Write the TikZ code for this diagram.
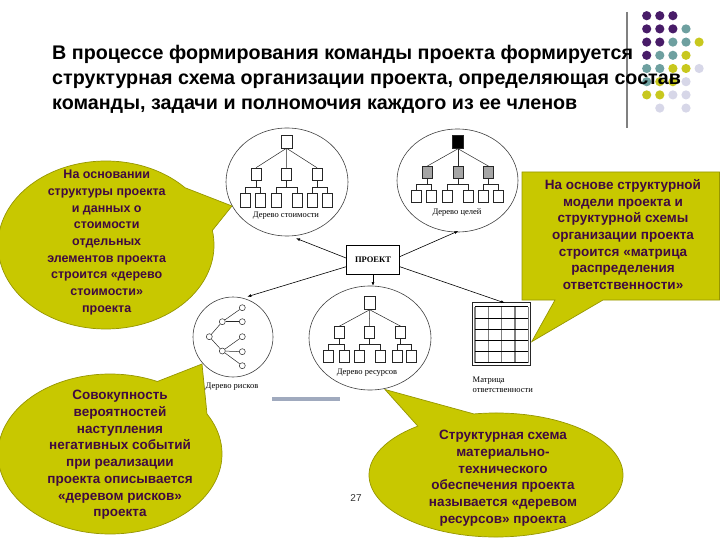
\documentclass[tikz,border=0pt]{standalone}
\usepackage{fontspec}
\setmainfont{Liberation Sans}
\newfontfamily\trfont{Liberation Serif}
\usetikzlibrary{arrows.meta,shapes.geometric}
\definecolor{olivefill}{RGB}{200,200,0}
\definecolor{olivedraw}{RGB}{150,150,0}
\definecolor{calltext}{RGB}{64,10,64}
\definecolor{dotpurple}{RGB}{72,28,104}
\definecolor{dotteal}{RGB}{110,160,160}
\definecolor{dotyellow}{RGB}{200,200,30}
\definecolor{dotlav}{RGB}{215,215,232}
\definecolor{barblue}{RGB}{160,170,190}
\definecolor{midgray}{RGB}{165,165,165}
\tikzset{
 tbox/.style={draw=black!85, line width=0.5pt, fill=white, minimum width=10pt, minimum height=12pt, inner sep=0pt},
 tline/.style={draw=black!85, line width=0.5pt},
 rnode/.style={circle, draw=black!85, line width=0.5pt, fill=white, minimum size=6pt, inner sep=0pt},
 ringshape/.style={ellipse, draw=black!75, line width=0.6pt, inner sep=0pt},
 arr/.style={draw=black, line width=0.6pt, -{Latex[length=4pt,width=3pt]}},
 tlabel/.style={font=\trfont\fontsize{8.5}{10}\selectfont, inner sep=0pt},
 bubble/.style={fill=olivefill, draw=olivedraw, line width=0.7pt},
 calltextstyle/.style={font=\bfseries\fontsize{13.5}{16.7}\selectfont, text=calltext, align=center, inner sep=0pt},
}
\begin{document}
\begin{tikzpicture}[x=1pt,y=1pt,yscale=-1]
\useasboundingbox (0,0) rectangle (720,540);
% decoration dots
\foreach \c/\r/\col in {0/0/dotpurple,1/0/dotpurple,2/0/dotpurple,
 0/1/dotpurple,1/1/dotpurple,2/1/dotpurple,3/1/dotteal,
 0/2/dotpurple,1/2/dotpurple,2/2/dotteal,3/2/dotteal,4/2/dotyellow,
 0/3/dotpurple,1/3/dotteal,2/3/dotteal,3/3/dotyellow,
 0/4/dotteal,1/4/dotteal,2/4/dotyellow,3/4/dotyellow,4/4/dotlav,
 0/5/dotteal,1/5/dotyellow,2/5/dotyellow,3/5/dotlav,
 0/6/dotyellow,1/6/dotyellow,2/6/dotlav,3/6/dotlav,
 1/7/dotlav,3/7/dotlav}
  \fill[\col] (646.7+13.1*\c,15.7+13.2*\r) circle (4.6);
\draw[gray, line width=1.5pt] (627,12) -- (627,128);
% title
\node[anchor=west, align=left, inner sep=0pt, font=\bfseries\fontsize{19.7}{25}\selectfont] (title) at (52,79)
 {В процессе формирования команды проекта формируется\\структурная схема организации проекта, определяющая состав\\команды, задачи и полномочия каждого из ее членов};
% frames
\node[ringshape, minimum width=122pt, minimum height=108pt] (costring) at (287,182) {};
\node[ringshape, minimum width=121pt, minimum height=103pt] (goalring) at (457.5,180.5) {};
\node[ringshape, minimum width=80pt, minimum height=80pt] (riskring) at (233,337) {};
\node[ringshape, minimum width=122pt, minimum height=104pt] (resring) at (370,338) {};
% cost tree
\node[tbox, minimum width=11pt, minimum height=13pt] (ct) at (286.5,141.5) {};
\foreach \i/\x in {1/256,2/286.7,3/317} \node[tbox] (cm\i) at (\x,174) {};
\foreach \i/\x in {1/245.7,2/260.7,3/276,4/297.7,5/312.3,6/327.3} \node[tbox, minimum height=14pt] (cb\i) at (\x,200) {};
\foreach \i in {1,2,3} \draw[tline] (ct.south) -- (cm\i.north);
\foreach \i/\a/\b in {1/1/2,2/3/4,3/5/6} {
  \path (cm\i.south) ++(0,6.7) coordinate (cj\i);
  \draw[tline] (cm\i.south) -- (cj\i);
  \draw[tline] (cb\a.north) |- (cj\i) -| (cb\b.north);
}
\node[tlabel] (costlab) at (286,216) {Дерево стоимости};
% goal tree
\node[tbox, fill=black, minimum width=11pt, minimum height=13pt] (gt) at (458,142) {};
\foreach \i/\x in {1/427,2/458,3/488.7} \node[tbox, fill=midgray] (gm\i) at (\x,172.5) {};
\foreach \i/\x in {1/416,2/431,3/447.3,4/468.3,5/483.3,6/498.3} \node[tbox] (gb\i) at (\x,196) {};
\foreach \i in {1,2,3} \draw[tline] (gt.south) -- (gm\i.north);
\foreach \i/\a/\b in {1/1/2,2/3/4,3/5/6} {
  \path (gm\i.south) ++(0,5.8) coordinate (gj\i);
  \draw[tline] (gm\i.south) -- (gj\i);
  \draw[tline] (gb\a.north) |- (gj\i) -| (gb\b.north);
}
\node[tlabel] (goallab) at (457,212.5) {Дерево целей};
% resource tree
\node[tbox, minimum width=11pt, minimum height=13pt] (rt) at (369.7,303) {};
\foreach \i/\x in {1/339.3,2/369.3,3/400.7} \node[tbox] (rm\i) at (\x,332.5) {};
\foreach \i/\x in {1/328.3,2/344,3/359.3,4/380.7,5/397.3,6/411.7} \node[tbox, minimum height=12.7pt] (rb\i) at (\x,356.3) {};
\foreach \i in {1,2,3} \draw[tline] (rt.south) -- (rm\i.north);
\foreach \i/\a/\b in {1/1/2,2/3/4,3/5/6} {
  \path (rm\i.south) ++(0,5.7) coordinate (rj\i);
  \draw[tline] (rm\i.south) -- (rj\i);
  \draw[tline] (rb\a.north) |- (rj\i) -| (rb\b.north);
}
\node[tlabel] (reslab) at (367,372.5) {Дерево ресурсов};
% risk tree
\node[rnode] (k0) at (209.3,336.7) {};
\node[rnode] (k1) at (222.3,321.7) {};
\node[rnode] (k2) at (222.3,351) {};
\node[rnode] (k11) at (242.3,307.7) {};
\node[rnode] (k12) at (242.3,321.7) {};
\node[rnode] (k21) at (242.3,336.7) {};
\node[rnode] (k22) at (242.3,351.7) {};
\node[rnode] (k23) at (242.3,365.7) {};
\foreach \a/\b in {k0/k1,k0/k2,k1/k11,k1/k12,k2/k21,k2/k22,k2/k23} \draw[tline] (\a) -- (\b);
\node[tlabel] (risklab) at (232,387) {Дерево рисков};
% matrix
\node[draw=black!85, line width=0.6pt, minimum width=58.4pt, minimum height=62.3pt, inner sep=0pt] (mat) at (501.5,333.85) {};
\foreach \x in {475,488.3,501.7,515,528.3} \draw[gray, line width=1.2pt] (\x,306.7) -- (\x,362.7);
\foreach \y in {306.7,317.9,329.1,340.3,351.5,362.7} \draw[black, line width=0.7pt] (475,\y) -- (528.3,\y);
\node[tlabel, anchor=west, align=left, font=\trfont\fontsize{8.5}{10.5}\selectfont] (matlab) at (472.5,385) {Матрица\\ответственности};
% project
\node[draw, line width=0.6pt, minimum width=52.6pt, minimum height=28.6pt, inner sep=0pt, font=\trfont\bfseries\fontsize{8.5}{10}\selectfont] (proj) at (373,260) {ПРОЕКТ};
\coordinate (costend) at (296,238.3);
\coordinate (goalend) at (458.3,231);
\coordinate (riskend) at (247.3,296.7);
\coordinate (resend) at (373,286);
\coordinate (matend) at (505,303);
\draw[arr] (proj.176) -- (costend);
\draw[arr] (proj.7) -- (goalend);
\draw[arr] (proj.194) -- (riskend);
\draw[arr] (proj.south) -- (resend);
\draw[arr] (proj.-14) -- (matend);
% bar and page number
\node[fill=barblue, minimum width=68pt, minimum height=4pt, inner sep=0pt] (bar) at (306,399) {};
\node[font=\fontsize{10}{12}\selectfont, text=black!80, inner sep=0pt] (pnum) at (356,498) {27};
% callouts
\filldraw[bubble] (106,245) ++(-10:108 and 84) arc[start angle=-10, end angle=317, x radius=108, y radius=84] -- (232,206) -- cycle;
\filldraw[bubble] (522,172) -- (719.5,172) -- (719.5,300) -- (603,300) -- (531.7,341.7) -- (555,300) -- (522,300) -- cycle;
\filldraw[bubble] (110,454) ++(-30:112 and 80) arc[start angle=-30, end angle=295, x radius=112, y radius=80] -- (202,364) -- cycle;
\filldraw[bubble] (496,475) ++(-100:127 and 62) arc[start angle=-100, end angle=232, x radius=127, y radius=62] -- (385,389.5) -- cycle;
\node[calltextstyle, font=\bfseries\fontsize{12.5}{16.7}\selectfont] (c1) at (106.7,242.5) {На основании\\структуры проекта\\и данных о\\стоимости\\отдельных\\элементов проекта\\строится «дерево\\стоимости»\\проекта};
\node[calltextstyle] (c2) at (623,234.5) {На основе структурной\\модели проекта и\\структурной схемы\\организации проекта\\строится «матрица\\распределения\\ответственности»};
\node[calltextstyle] (c3) at (120,455) {Совокупность\\вероятностей\\наступления\\негативных событий\\при реализации\\проекта описывается\\«деревом рисков»\\проекта};
\node[calltextstyle] (c4) at (503,478.3) {Структурная схема\\материально-\\технического\\обеспечения проекта\\называется «деревом\\ресурсов» проекта};
\end{tikzpicture}
\end{document}
